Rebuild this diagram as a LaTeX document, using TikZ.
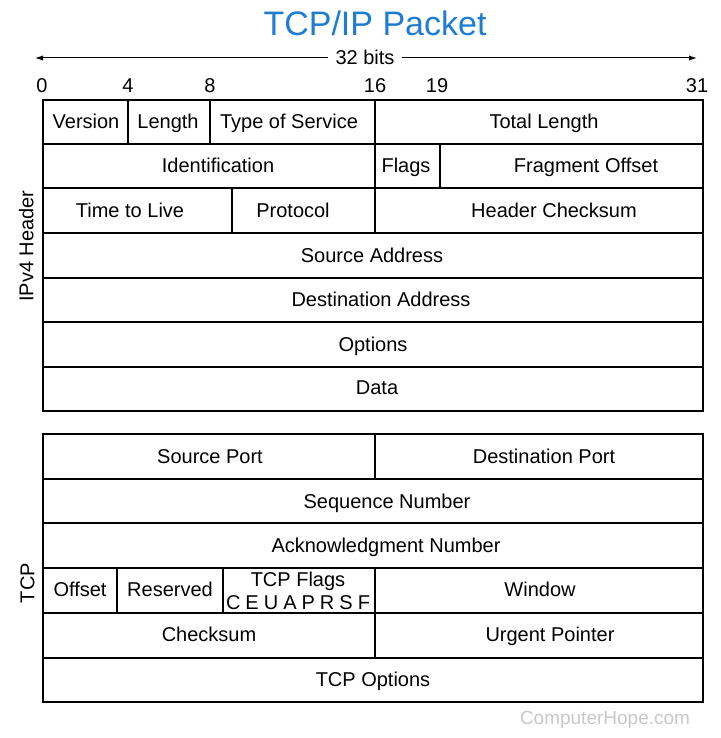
\documentclass[tikz,border=0pt]{standalone}
\usepackage{fontspec}
\setmainfont{Liberation Sans}
\usepackage{tikz}
\usetikzlibrary{arrows.meta}
\definecolor{titleblue}{RGB}{30,125,210}
\definecolor{hopegray}{RGB}{200,200,200}
\tikzstyle{frame}=[line width=1.3pt, black]
\tikzstyle{cell}=[line width=1pt, black]
\tikzstyle{bitlen}=[line width=.5pt, -{Latex[length=4pt,width=2.6pt]}]

\begin{document}
\begin{tikzpicture}[x=.5pt, y=-.5pt, font=\fontsize{10}{12}\selectfont,
	every node/.style={text height=1.55ex, text depth=.35ex}]
	\useasboundingbox (0,0) rectangle (720,738);
%
	\node[titleblue, font=\fontsize{17}{20}\selectfont] (title) at (375,29) {TCP/IP Packet};
	\node (bits) at (365,58) {32 bits};
	\coordinate (bitsL) at (35,58);
	\coordinate (bitsR) at (697,58);
	\draw[bitlen] (bits) -- (bitsL);
	\draw[bitlen] (bits) -- (bitsR);
%
	\node (b0) at (42,86) {0};
	\node (b4) at (128,86) {4};
	\node (b8) at (210,86) {8};
	\node (b16) at (375,86) {16};
	\node (b19) at (437,86) {19};
	\node (b31) at (697,86) {31};
%
	% IPv4 header
	\draw[cell] (43,144) -- (703,144)  (43,188) -- (703,188)  (43,233) -- (703,233);
	\draw[cell] (43,278) -- (703,278)  (43,322) -- (703,322)  (43,367) -- (703,367);
	\draw[cell] (128,100) -- (128,144)  (210,100) -- (210,144)  (375,100) -- (375,233);
	\draw[cell] (440,144) -- (440,188)  (232,188) -- (232,233);
	\draw[frame] (43,100) rectangle (703,411);
%
	\node (version) at (86,122) {Version};
	\node (ihl) at (168,122) {Length};
	\node (tos) at (289,122) {Type of Service};
	\node (totlen) at (544,122) {Total Length};
	\node (ident) at (218,166) {Identification};
	\node (flags) at (406,166) {Flags};
	\node (fragoff) at (586,166) {Fragment Offset};
	\node (ttl) at (130,211) {Time to Live};
	\node (proto) at (293,211) {Protocol};
	\node (hdrsum) at (554,211) {Header Checksum};
	\node (srcaddr) at (372,256) {Source Address};
	\node (dstaddr) at (381,300) {Destination Address};
	\node (ipopts) at (373,345) {Options};
	\node (data) at (377,388) {Data};
	\node[rotate=90] (iplabel) at (27,246) {IPv4 Header};
%
	% TCP header
	\draw[cell] (43,479) -- (703,479)  (43,523) -- (703,523)  (43,568) -- (703,568);
	\draw[cell] (43,613) -- (703,613)  (43,658) -- (703,658);
	\draw[cell] (375,434) -- (375,479)  (375,568) -- (375,658);
	\draw[cell] (117,568) -- (117,613)  (223,568) -- (223,613);
	\draw[frame] (43,434) rectangle (703,702);
%
	\node (srcport) at (210,457) {Source Port};
	\node (dstport) at (544,457) {Destination Port};
	\node (seqnum) at (387,502) {Sequence Number};
	\node (acknum) at (386,546) {Acknowledgment Number};
	\node (offset) at (80,590) {Offset};
	\node (reserved) at (170,590) {Reserved};
	\node (tcpflags) at (298,580) {TCP Flags};
	\node[inner sep=0pt] (flagbits) at (298,603) {\makebox[72pt][s]{C E U A P R S F}};
	\node (window) at (540,590) {Window};
	\node (checksum) at (209,635) {Checksum};
	\node (urgent) at (550,635) {Urgent Pointer};
	\node (tcpopts) at (373,680) {TCP Options};
	\node[rotate=90] (tcplabel) at (28,583) {TCP};
%
	\node[hopegray, font=\fontsize{9.5}{11}\selectfont] (hope) at (605,718) {ComputerHope.com};
\end{tikzpicture}
\end{document}
